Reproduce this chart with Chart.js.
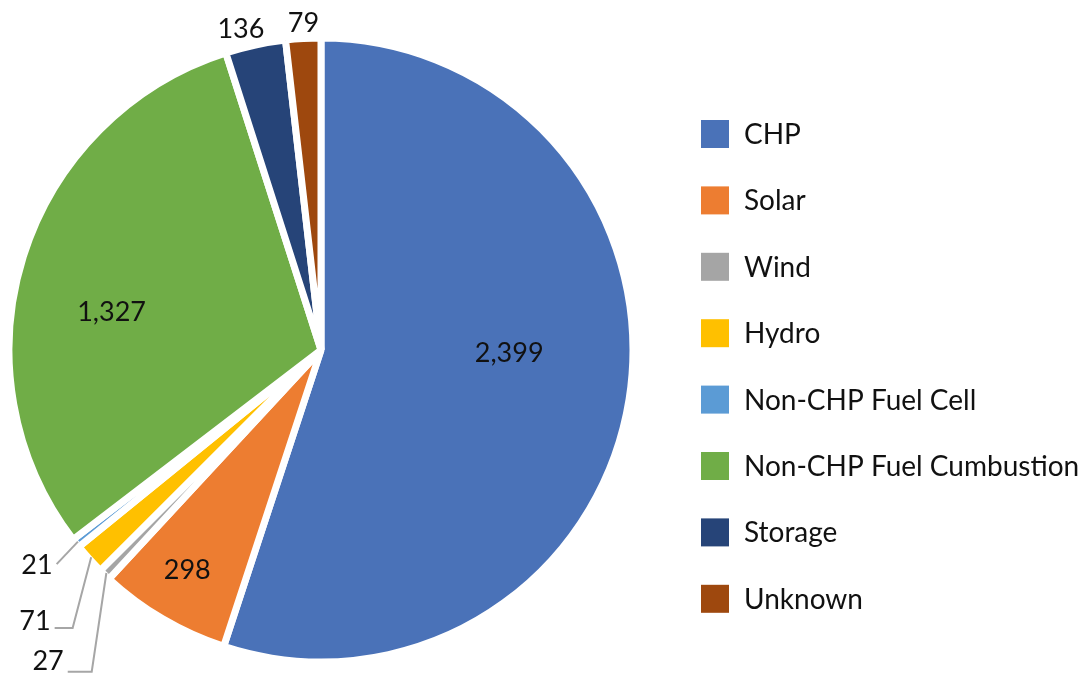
<!DOCTYPE html>
<html lang="en">
<head>
    <meta charset="UTF-8">
    <title>Capacity by Technology</title>
    <script src="https://cdn.jsdelivr.net/npm/chart.js"></script>
    <style>
        body { margin: 0; background: #fff; }
    </style>
</head>
<body>
    <canvas id="grafica" width="1086" height="681"></canvas>

    <script>
        // datos
        const categorias = ['CHP', 'Solar', 'Wind', 'Hydro', 'Non-CHP Fuel Cell', 'Non-CHP Fuel Cumbustion', 'Storage', 'Unknown'];
        const valores = [2399, 298, 27, 71, 21, 1327, 136, 79];
        const colores = ['#4A72B8', '#ED7D31', '#A5A5A5', '#FFC000', '#5B9BD5', '#70AD47', '#264478', '#9E480E'];

        const FUENTE = 'Lato, "Noto Sans", sans-serif';
        const BORDE = 7;

        // where each value label sits: fraction of radius, angle nudge (deg), optional leader line
        const etiquetas = [
            { r: 0.61, da: -8.2 },
            { r: 0.835, da: 0.8 },
            { r: 1.343, da: -2.7, guia: { codo: 24, dy: 10 } },
            { r: 1.277, da: -1.4, guia: { codo: 18, dy: 7 } },
            { r: 1.155, da: 1.1, guia: { codo: 0, dy: -1 } },
            { r: 0.69, da: -7.1 },
            { r: 1.07, da: -1.9 },
            { r: 1.06, da: 0.2 }
        ];

        const pluginEtiquetas = {
            id: 'etiquetas',
            afterDatasetsDraw(chart) {
                const ctx = chart.ctx;
                const arcos = chart.getDatasetMeta(0).data;
                ctx.save();
                ctx.font = '27px ' + FUENTE;
                ctx.fillStyle = '#111';
                ctx.textAlign = 'center';
                ctx.textBaseline = 'middle';
                arcos.forEach((arco, i) => {
                    const R = arco.outerRadius - BORDE / 2;
                    const medio = (arco.startAngle + arco.endAngle) / 2;
                    const e = etiquetas[i];
                    const ang = medio + e.da * Math.PI / 180;
                    const x = arco.x + Math.cos(ang) * R * e.r;
                    const y = arco.y + Math.sin(ang) * R * e.r;
                    const texto = valores[i].toLocaleString('en-US');
                    ctx.fillText(texto, x, y);
                    if (e.guia) {
                        const w = ctx.measureText(texto).width;
                        const x0 = x + w / 2 + 4;
                        const y0 = y + e.guia.dy;
                        const ax = arco.x + Math.cos(medio) * (R + 1);
                        const ay = arco.y + Math.sin(medio) * (R + 1);
                        ctx.beginPath();
                        ctx.strokeStyle = '#A6A6A6';
                        ctx.lineWidth = 2;
                        ctx.moveTo(x0, y0);
                        ctx.lineTo(x0 + e.guia.codo, y0);
                        ctx.lineTo(ax, ay);
                        ctx.stroke();
                    }
                });
                ctx.restore();
            }
        };

        const pluginLeyenda = {
            id: 'leyenda',
            afterDraw(chart) {
                const ctx = chart.ctx;
                ctx.save();
                ctx.font = '28px ' + FUENTE;
                ctx.textBaseline = 'middle';
                categorias.forEach((cat, i) => {
                    const cy = 134 + i * 66.4;
                    ctx.fillStyle = colores[i];
                    ctx.fillRect(701, cy - 14, 28, 28);
                    ctx.fillStyle = '#111';
                    ctx.fillText(cat, 744, cy + 1);
                });
                ctx.restore();
            }
        };

        const ctx = document.getElementById('grafica').getContext('2d');
        const grafica = new Chart(ctx, {
            type: 'pie',
            data: {
                labels: categorias,
                datasets: [{
                    data: valores,
                    backgroundColor: colores,
                    borderColor: '#ffffff',
                    borderWidth: BORDE
                }]
            },
            options: {
                responsive: false,
                animation: false,
                radius: 312,
                layout: { padding: { left: 0, right: 444, top: 19, bottom: 0 } },
                plugins: {
                    legend: { display: false },
                    tooltip: { enabled: false }
                }
            },
            plugins: [pluginEtiquetas, pluginLeyenda]
        });
    </script>
</body>
</html>
